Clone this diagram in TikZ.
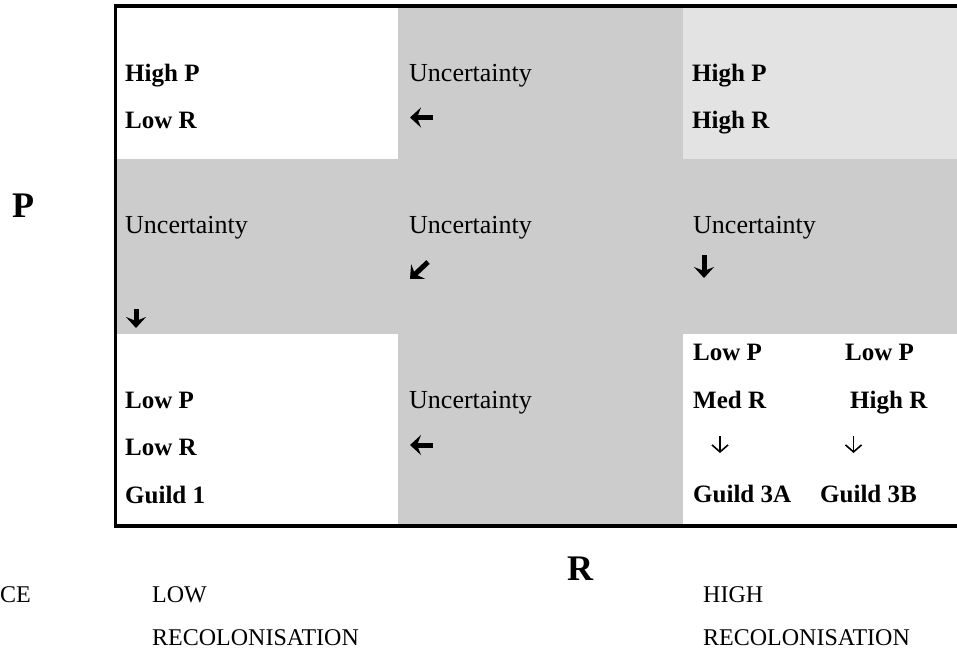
\documentclass[tikz,border=0pt]{standalone}
\usepackage{fontspec}
\setmainfont{Liberation Serif}
\usetikzlibrary{arrows.meta}
\definecolor{cellgray}{HTML}{CCCCCC}
\definecolor{palegray}{HTML}{E3E3E3}
\tikzset{
  tag/.style={font=\bfseries\fontsize{25}{30}\selectfont,anchor=base west,inner sep=0pt},
  unc/.style={font=\fontsize{26}{30}\selectfont,anchor=base west,inner sep=0pt},
  axislabel/.style={font=\bfseries\fontsize{36}{40}\selectfont,anchor=base west,inner sep=0pt},
  scalelabel/.style={font=\fontsize{24}{28}\selectfont,anchor=base west,inner sep=0pt},
  heavy/.style={-{Stealth[length=11pt,width=20pt,inset=4pt]},line width=5pt},
  slim/.style={-{Straight Barb[length=7pt,width=16pt]},line width=1.6pt},
  frame/.style={line width=3.5pt}
}

\begin{document}
\begin{tikzpicture}[x=1pt,y=-1pt]
\path[use as bounding box] (0,0) rectangle (957,655);
% shaded cells
\fill[cellgray] (398,6) rectangle (683,159);
\fill[palegray] (683,6) rectangle (957,159);
\fill[cellgray] (115,159) rectangle (957,334);
\fill[cellgray] (398,334) rectangle (683,526);
\draw[frame] (957,6) -- (115.5,6) -- (115.5,526) -- (957,526);
% top row
\node[tag] (hp1) at (125,82) {High P};
\node[tag] (lr1) at (125,129) {Low R};
\node[tag] (hp3) at (692,82) {High P};
\node[tag] (hr3) at (692,129) {High R};
% uncertainty cells
\foreach \n/\x/\y in {u12/409/82, u21/125/233, u22/409/233, u23/693/233, u32/409/408}
  \node[unc] (\n) at (\x,\y) {Uncertainty};
\draw[heavy] (433,117.5) -- (410,117.5);
\draw[heavy] (136,309) -- (136,328);
\draw[heavy] (428,262) -- (410,279);
\draw[heavy] (704,255) -- (704,278);
\draw[heavy] (433,445) -- (410,445);
% bottom row
\node[tag] (lp1) at (125,408) {Low P};
\node[tag] (lr31) at (125,455) {Low R};
\node[tag] (g1) at (125,503) {Guild 1};
\node[tag] (lpa) at (693,360) {Low P};
\node[tag] (lpb) at (845,360) {Low P};
\node[tag] (mra) at (693,408) {Med R};
\node[tag] (hrb) at (850,408) {High R};
\coordinate (da) at (720,436);
\coordinate (db) at (853.5,436);
\draw[slim] (da) -- ++(0,17);
\draw[slim] (db) -- ++(0,17);
\node[tag] (g3a) at (693,502) {Guild 3A};
\node[tag] (g3b) at (820,502) {Guild 3B};
% axes
\node[axislabel] (paxis) at (12,217) {P};
\node[axislabel] (raxis) at (567,580) {R};
\node[scalelabel] (ce) at (0,602) {CE};
\node[scalelabel] (low) at (152,602) {LOW};
\node[scalelabel] (lowrec) at (152,645) {RECOLONISATION};
\node[scalelabel] (high) at (703,602) {HIGH};
\node[scalelabel] (highrec) at (703,645) {RECOLONISATION};
\end{tikzpicture}
\end{document}
